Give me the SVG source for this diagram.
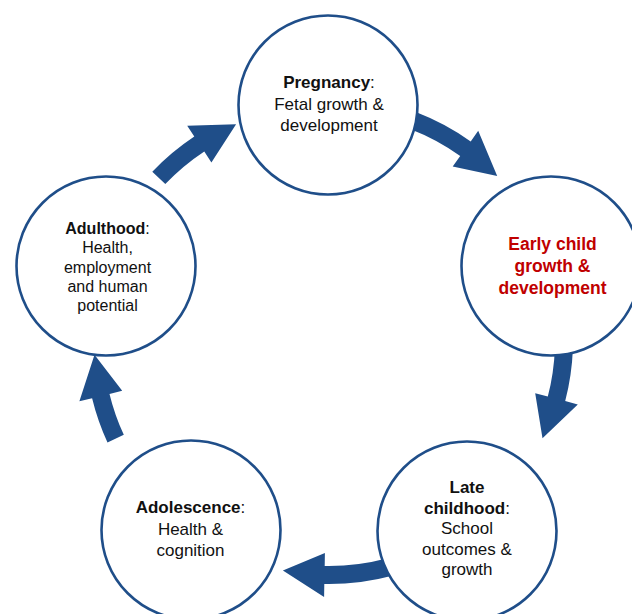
<svg xmlns="http://www.w3.org/2000/svg" width="632" height="614" viewBox="0 0 632 614">
<style>
.node{fill:#ffffff;stroke:#1f4e89;stroke-width:2.6}
.arrow{fill:#1f4e89;stroke:none}
text{font-family:"Liberation Sans",Arial,sans-serif;font-size:17px;fill:#111111;text-anchor:middle}
.b{font-weight:bold}
.red{fill:#c00000;font-weight:bold;font-size:17.5px}
.sm{font-size:16px}
</style>
<rect width="632" height="614" fill="#ffffff"/>
<g id="connectors">
<path class="arrow" d="M152.3,171.7 A244,244 0 0 1 194.3,136.5 L187.2,125.7 L236.1,124.2 L211.4,162.4 L204.3,151.5 A226,226 0 0 0 165.3,184.1 Z"/>
<path class="arrow" d="M416.4,112.2 A244,244 0 0 1 470.7,141.4 L478.2,130.8 L497.2,175.9 L452.7,166.6 L460.2,156.0 A226,226 0 0 0 410.0,129.0 Z"/>
<path class="arrow" d="M572.9,348.5 A244,244 0 0 1 565.2,401.1 L577.8,404.4 L542.5,438.2 L535.2,393.3 L547.8,396.6 A226,226 0 0 0 554.9,347.9 Z"/>
<path class="arrow" d="M392.2,575.7 A244,244 0 0 1 324.3,584.0 L324.1,597.0 L282.9,570.4 L324.9,553.0 L324.7,566.0 A226,226 0 0 0 387.5,558.3 Z"/>
<path class="arrow" d="M107.5,442.4 A244,244 0 0 1 92.1,398.2 L79.4,401.3 L94.5,354.8 L122.2,390.8 L109.5,393.9 A226,226 0 0 0 123.8,434.8 Z"/>
</g>
<g id="pregnancy">
<circle class="node" cx="328" cy="105" r="89.5"/>
<text x="329" y="88"><tspan class="b">Pregnancy</tspan>:</text>
<text x="329" y="109.5">Fetal growth &amp;</text>
<text x="329" y="131">development</text>
</g>
<g id="early-child">
<circle class="node" cx="551" cy="266" r="89.5"/>
<text class="red" x="552.5" y="250">Early child</text>
<text class="red" x="552.5" y="272">growth &amp;</text>
<text class="red" x="552.5" y="294">development</text>
</g>
<g id="late-childhood">
<circle class="node" cx="467" cy="531" r="89.5"/>
<text class="b" x="467" y="493">Late</text>
<text x="467" y="513.5"><tspan class="b">childhood</tspan>:</text>
<text x="467" y="534">School</text>
<text x="467" y="554.5">outcomes &amp;</text>
<text x="467" y="575">growth</text>
</g>
<g id="adolescence">
<circle class="node" cx="191" cy="530" r="89.5"/>
<text x="190.5" y="513"><tspan class="b">Adolescence</tspan>:</text>
<text x="190.5" y="534.5">Health &amp;</text>
<text x="190.5" y="556">cognition</text>
</g>
<g id="adulthood">
<circle class="node" cx="106" cy="266" r="89.5"/>
<text class="sm" x="107.5" y="234"><tspan class="b">Adulthood</tspan>:</text>
<text class="sm" x="107.5" y="253.3">Health,</text>
<text class="sm" x="107.5" y="272.6">employment</text>
<text class="sm" x="107.5" y="291.9">and human</text>
<text class="sm" x="107.5" y="311.2">potential</text>
</g>
</svg>
